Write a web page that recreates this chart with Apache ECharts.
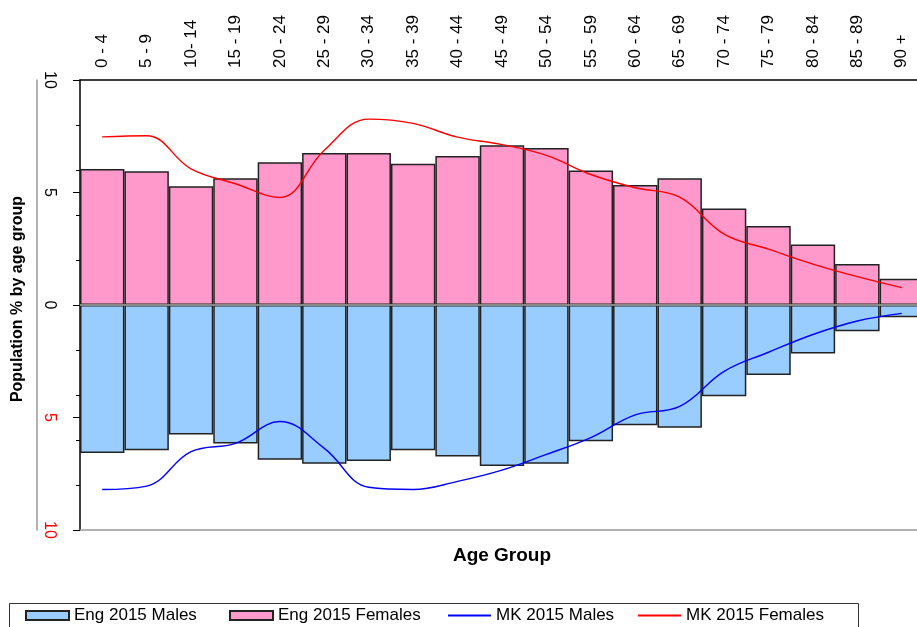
<!DOCTYPE html>
<html>
<head>
<meta charset="utf-8">
<script src="https://cdn.jsdelivr.net/npm/echarts@6/dist/echarts.min.js"></script>
<style>
  html, body { margin: 0; padding: 0; background: #fff; }
  #chart { width: 917px; height: 627px; }
</style>
</head>
<body>
<div id="chart"></div>
<script>
// age bands
const ageGroups = ['0 - 4', '5 - 9', '10- 14', '15 - 19', '20 - 24', '25 - 29', '30 - 34', '35 - 39',
  '40 - 44', '45 - 49', '50 - 54', '55 - 59', '60 - 64', '65 - 69', '70 - 74', '75 - 79',
  '80 - 84', '85 - 89', '90 +'];

// England 2015 (% of population), males shown as negative
const engFemales = [6.04, 5.94, 5.28, 5.63, 6.34, 6.76, 6.76, 6.28, 6.62, 7.10, 6.98, 5.98,
  5.33, 5.63, 4.29, 3.51, 2.69, 1.82, 1.17];
const engMales = [-6.58, -6.46, -5.76, -6.16, -6.88, -7.05, -6.93, -6.46, -6.73, -7.16, -7.05,
  -6.06, -5.34, -5.46, -4.06, -3.11, -2.16, -1.17, -0.54];

// Milton Keynes 2015
const mkFemales = [7.47, 7.52, 6.05, 5.39, 4.78, 6.88, 8.26, 8.07, 7.46, 7.13, 6.65, 5.80,
  5.21, 4.79, 3.15, 2.48, 1.82, 1.26, 0.77];
const mkMales = [-8.2, -8.05, -6.52, -6.15, -5.18, -6.37, -8.1, -8.2, -7.84, -7.34, -6.64,
  -5.89, -4.88, -4.51, -2.95, -2.1, -1.31, -0.71, -0.37];

const seriesNames = ['Eng 2015 Males', 'Eng 2015 Females', 'MK 2015 Males', 'MK 2015 Females'];

const font = 'Liberation Sans, Arial, sans-serif';

const chart = echarts.init(document.getElementById('chart'));

// one legend per entry so each sits where the original puts it
const legendLeft = [25, 229, 448, 638];
const legends = seriesNames.map((name, i) => ({
  left: legendLeft[i],
  top: 607,
  padding: 0,
  icon: 'rect',
  itemWidth: 43,
  itemHeight: i < 2 ? 9 : 2,
  textStyle: { fontSize: 17, color: '#000', fontFamily: font },
  data: [name]
}));

let option = {
  animation: false,
  textStyle: { fontFamily: font },
  grid: { left: 80, top: 80, bottom: 97, right: -7, outerBoundsMode: 'none' },
  legend: legends,
  graphic: [{
    type: 'rect',
    shape: { x: 9.5, y: 603.5, width: 849, height: 30 },
    style: { fill: 'none', stroke: '#333', lineWidth: 1 },
    silent: true
  }],
  xAxis: [{
    type: 'category',
    position: 'top',
    data: ageGroups,
    boundaryGap: true,
    axisLine: { onZero: false, lineStyle: { color: '#000', width: 1.5 } },
    axisTick: { interval: 0, length: 6, lineStyle: { color: '#000' } },
    axisLabel: { interval: 0, rotate: -90, fontSize: 17, color: '#000', margin: 12 }
  }, {
    // bottom edge + title
    type: 'category',
    position: 'bottom',
    data: ageGroups,
    name: 'Age Group',
    nameLocation: 'middle',
    nameGap: 16,
    nameTextStyle: { fontSize: 19, fontWeight: 'bold', color: '#000' },
    axisLine: { onZero: false, lineStyle: { color: '#999', width: 1.5 } },
    axisTick: { show: false },
    axisLabel: { show: false }
  }],
  yAxis: [{
    type: 'value',
    min: -10,
    max: 10,
    interval: 5,
    name: 'Population % by age group',
    nameLocation: 'middle',
    nameGap: 54,
    nameRotate: 90,
    nameTextStyle: { fontSize: 16, fontWeight: 'bold', color: '#000', padding: [0, 0, 0, 12] },
    axisLine: { show: true, lineStyle: { color: '#000', width: 1.5 } },
    axisTick: { show: true, length: 7, lineStyle: { color: '#000' } },
    splitLine: { show: false },
    axisLabel: {
      rotate: -90,
      fontSize: 16,
      margin: 23,
      formatter: v => String(Math.abs(v)),
      color: v => (v < 0 ? '#ff0000' : '#000')
    }
  }, {
    // minor ticks
    type: 'value',
    min: -10,
    max: 10,
    interval: 2,
    position: 'left',
    axisLine: { show: false },
    axisTick: { show: true, length: 4, lineStyle: { color: '#000' } },
    axisLabel: { show: false },
    splitLine: { show: false }
  }, {
    // thin grey rule left of the labels
    type: 'value',
    min: -10,
    max: 10,
    position: 'left',
    offset: 43,
    axisLine: { show: true, lineStyle: { color: '#999', width: 1.5 } },
    axisTick: { show: false },
    axisLabel: { show: false },
    splitLine: { show: false }
  }],
  series: [{
    name: seriesNames[0],
    type: 'bar',
    stack: 'pop',
    data: engMales,
    barCategoryGap: 0,
    itemStyle: { color: '#99ccff', borderColor: '#222', borderWidth: 1.5 }
  }, {
    name: seriesNames[1],
    type: 'bar',
    stack: 'pop',
    data: engFemales,
    barCategoryGap: 0,
    itemStyle: { color: '#ff99cc', borderColor: '#222', borderWidth: 1.5 },
    markLine: {
      silent: true,
      symbol: 'none',
      label: { show: false },
      lineStyle: { color: '#888', width: 2, type: 'solid' },
      data: [{ yAxis: 0 }]
    }
  }, {
    name: seriesNames[2],
    type: 'line',
    data: mkMales,
    smooth: 0.4,
    symbol: 'none',
    z: 5,
    lineStyle: { color: '#0000ff', width: 1.4 },
    itemStyle: { color: '#0000ff' }
  }, {
    name: seriesNames[3],
    type: 'line',
    data: mkFemales,
    smooth: 0.4,
    symbol: 'none',
    z: 5,
    lineStyle: { color: '#ff0000', width: 1.4 },
    itemStyle: { color: '#ff0000' }
  }]
};

chart.setOption(option);
</script>
</body>
</html>
